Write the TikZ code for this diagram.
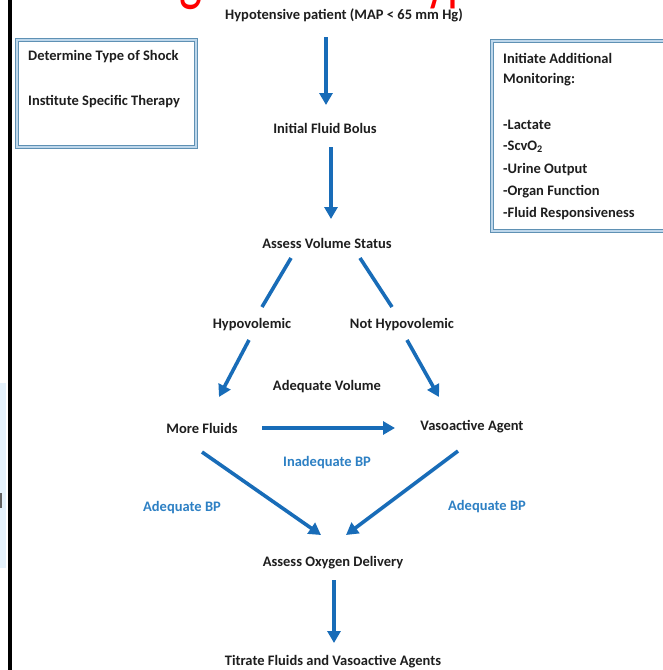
\documentclass[tikz,border=0pt]{standalone}
\usepackage{fontspec}
\setmainfont{Carlito}
\usetikzlibrary{arrows.meta}
\definecolor{arrowblue}{RGB}{24,108,184}
\definecolor{labelblue}{RGB}{45,128,196}
\definecolor{boxline}{RGB}{95,145,180}
\definecolor{boxfill}{RGB}{190,215,235}
\definecolor{panelblue}{RGB}{228,241,251}
\definecolor{txt}{RGB}{30,30,30}
\tikzset{
  flow/.style={font=\bfseries\fontsize{14.5}{16}\selectfont, text=txt, inner sep=1pt},
  bluelabel/.style={font=\bfseries\fontsize{14.5}{16}\selectfont, text=labelblue, inner sep=1pt},
  boxtext/.style={font=\bfseries\fontsize{14.5}{16}\selectfont, text=txt, anchor=west, inner sep=0pt},
  arr/.style={draw=arrowblue, line width=3.6pt, -{Triangle[width=13pt,length=12pt]}},
  plain/.style={draw=arrowblue, line width=3.6pt},
  dbox/.style={draw=boxline, line width=1pt, double=boxfill, double distance=2.2pt}
}
\begin{document}
\begin{tikzpicture}[x=1pt,y=-1pt]
\useasboundingbox (0,0) rectangle (662,670);
\fill[white] (0,0) rectangle (662,670);
% red title, mostly above the page top: only descenders show
\begin{scope}
\clip (0,0) rectangle (662,670);
\node[anchor=base west, inner sep=0pt, text=red, font=\fontsize{49}{50}\selectfont] (title) at (65,-2.5) {\scalebox{1}[1.45]{Management of Hypotension}};
\end{scope}
% left page edge panel and black rule
\fill[panelblue] (0,383) rectangle (5.5,568);
\fill[txt!70] (0,493) rectangle (1.8,508);
\fill[black] (7.8,0) rectangle (11.8,670);
% side boxes
\draw[dbox] (17,40) rectangle (196,147);
\node[boxtext] (shock) at (28,57) {Determine Type of Shock};
\node[boxtext] (therapy) at (28,102) {Institute Specific Therapy};
\draw[dbox] (492,41) rectangle (672,231);
\node[boxtext] (mon1) at (503,58) {Initiate Additional};
\node[boxtext] (mon2) at (503,80) {Monitoring:};
\node[boxtext] (lac) at (503,125) {-Lactate};
\node[boxtext] (scv) at (503,147) {-ScvO\textsubscript{2}};
\node[boxtext] (uri) at (503,170) {-Urine Output};
\node[boxtext] (org) at (503,192) {-Organ Function};
\node[boxtext] (flu) at (503,214) {-Fluid Responsiveness};
% flow nodes
\node[flow] (hyp) at (344,15) {Hypotensive patient (MAP < 65 mm Hg)};
\node[flow] (bolus) at (325,128) {Initial Fluid Bolus};
\node[flow] (assess) at (327,243) {Assess Volume Status};
\node[flow] (hypo) at (252,325) {Hypovolemic};
\node[flow] (nothypo) at (402,325) {Not Hypovolemic};
\node[flow] (adv) at (327,387) {Adequate Volume};
\node[flow] (more) at (202,428) {More Fluids};
\node[flow] (vaso) at (472,427) {Vasoactive Agent};
\node[bluelabel] (inad) at (327,463) {Inadequate BP};
\node[bluelabel] (adbpl) at (182,508) {Adequate BP};
\node[bluelabel] (adbpr) at (487,507) {Adequate BP};
\node[flow] (oxy) at (333,563) {Assess Oxygen Delivery};
\node[flow] (titr) at (333,662) {Titrate Fluids and Vasoactive Agents};
% connector end points
\coordinate (a1s) at (326,37);  \coordinate (a1e) at (326,105);
\coordinate (a2s) at (331,147); \coordinate (a2e) at (331,219);
\coordinate (l1s) at (291,258); \coordinate (l1e) at (262,307);
\coordinate (r1s) at (360,258); \coordinate (r1e) at (392,307);
\coordinate (l2s) at (249,340); \coordinate (l2e) at (219,397);
\coordinate (r2s) at (407,340); \coordinate (r2e) at (439,397);
\coordinate (hs) at (262,428);  \coordinate (he) at (395,428);
\coordinate (dls) at (202,452); \coordinate (dle) at (321,535);
\coordinate (drs) at (458,451); \coordinate (dre) at (346,535);
\coordinate (a3s) at (334,580); \coordinate (a3e) at (334,643);
% connectors
\draw[arr] (a1s) -- (a1e);
\draw[arr] (a2s) -- (a2e);
\draw[plain] (l1s) -- (l1e);
\draw[plain] (r1s) -- (r1e);
\draw[arr] (l2s) -- (l2e);
\draw[arr] (r2s) -- (r2e);
\draw[arr] (hs) -- (he);
\draw[arr] (dls) -- (dle);
\draw[arr] (drs) -- (dre);
\draw[arr] (a3s) -- (a3e);
\end{tikzpicture}
\end{document}
